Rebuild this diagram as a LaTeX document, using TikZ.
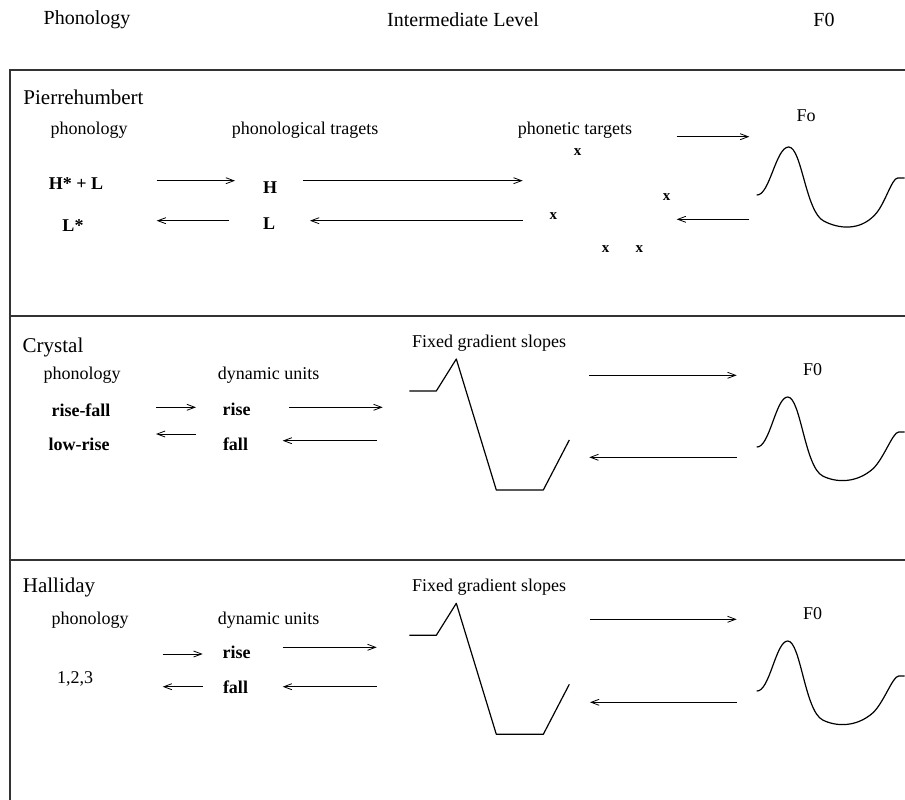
\documentclass[tikz,border=0pt]{standalone}
\usepackage{fontspec}
\setmainfont{Liberation Serif}
\usetikzlibrary{arrows.meta}
\tikzset{
  ttl/.style={inner sep=0pt, font=\fontsize{20}{22}\selectfont},
  pnl/.style={inner sep=0pt, font=\fontsize{21}{23}\selectfont},
  lbl/.style={inner sep=0pt, font=\fontsize{18}{20}\selectfont},
  bld/.style={inner sep=0pt, font=\fontsize{18}{20}\selectfont\bfseries},
  xmk/.style={inner sep=0pt, font=\fontsize{15}{16}\selectfont\bfseries},
  arr/.style={line width=0.9pt, -{Straight Barb[length=8pt,width=6pt,line width=0.8pt]}},
  frame/.style={line width=1.5pt, black!80},
  curve/.style={line width=1.2pt, line join=round},
}
\begin{document}
\begin{tikzpicture}[x=1pt,y=-1pt]
\useasboundingbox (0,0) rectangle (905,800);
% header
\node[ttl] (hph) at (87,20) {Phonology};
\node[ttl] (hil) at (463,20) {Intermediate Level};
\node[ttl] (hf0) at (824,20) {F0};
% frame
\coordinate (fTR) at (905,70);
\coordinate (fTL) at (10,70);
\coordinate (fBL) at (10,800);
\coordinate (d1L) at (10,316);
\coordinate (d1R) at (905,316);
\coordinate (d2L) at (10,560);
\coordinate (d2R) at (905,560);
\draw[frame] (fTR) -- (fTL) -- (fBL);
\draw[frame] (d1L) -- (d1R);
\draw[frame] (d2L) -- (d2R);

% ---------- Pierrehumbert ----------
\node[pnl] (pname) at (83.5,97) {Pierrehumbert};
\node[lbl] (pphon) at (89,130) {phonology};
\node[lbl] (ptrag) at (305,130) {phonological tragets};
\node[lbl] (pphtg) at (575,130) {phonetic targets};
\node[lbl] (pfo) at (806,116) {Fo};
\node[bld] (phl) at (76,184) {H* + L};
\node[bld] (plst) at (73,226) {L*};
\node[bld] (ph) at (270,188) {H};
\node[bld] (pl) at (269,224) {L};
\node[xmk] (x1) at (577.7,151.7) {x};
\node[xmk] (x2) at (553.3,215.7) {x};
\node[xmk] (x3) at (666.7,197.3) {x};
\node[xmk] (x4) at (605.7,249.3) {x};
\node[xmk] (x5) at (639.3,249.3) {x};
\coordinate (pa1s) at (156.7,180.7); \coordinate (pa1e) at (235,180.7);
\coordinate (pa2s) at (229,220.7);   \coordinate (pa2e) at (156.7,220.7);
\coordinate (pa3s) at (302.7,180.7); \coordinate (pa3e) at (522.7,180.7);
\coordinate (pa4s) at (522.7,220.7); \coordinate (pa4e) at (310,220.7);
\coordinate (pa5s) at (676.7,136.7); \coordinate (pa5e) at (749.3,136.7);
\coordinate (pa6s) at (749.3,219.3); \coordinate (pa6e) at (676.7,219.3);
\draw[arr] (pa1s) -- (pa1e);
\draw[arr] (pa2s) -- (pa2e);
\draw[arr] (pa3s) -- (pa3e);
\draw[arr] (pa4s) -- (pa4e);
\draw[arr] (pa5s) -- (pa5e);
\draw[arr] (pa6s) -- (pa6e);
\begin{scope}[shift={(756.7,195)}]
\draw[curve] (0,0) .. controls (13,1) and (19,-48) .. (32,-48)
  .. controls (45,-48) and (49,17) .. (67,26)
  .. controls (82,34) and (103,36) .. (118,20)
  .. controls (128,10) and (135,-17) .. (141,-17) -- (148,-17);
\end{scope}

% ---------- Crystal ----------
\node[pnl] (cname) at (53,347) {Crystal};
\node[lbl] (cphon) at (82,375) {phonology};
\node[lbl] (cdyn) at (268.7,375) {dynamic units};
\node[bld] (crf) at (81,410) {rise-fall};
\node[bld] (clr) at (79,444) {low-rise};
\node[bld] (crise) at (236.7,409.3) {rise};
\node[bld] (cfall) at (235.5,444) {fall};
\node[lbl] (cfix) at (489,343.3) {Fixed gradient slopes};
\node[lbl] (cf0) at (812.5,369.3) {F0};
\coordinate (ca1s) at (156,407.3);   \coordinate (ca1e) at (196,407.3);
\coordinate (ca2s) at (196,434);     \coordinate (ca2e) at (156,434);
\coordinate (ca3s) at (289.3,407.3); \coordinate (ca3e) at (382.7,407.3);
\coordinate (ca4s) at (376.7,440.7); \coordinate (ca4e) at (282.7,440.7);
\coordinate (ca5s) at (589.3,375.3); \coordinate (ca5e) at (736.7,375.3);
\coordinate (ca6s) at (736.7,457.3); \coordinate (ca6e) at (589.3,457.3);
\draw[arr] (ca1s) -- (ca1e);
\draw[arr] (ca2s) -- (ca2e);
\draw[arr] (ca3s) -- (ca3e);
\draw[arr] (ca4s) -- (ca4e);
\draw[arr] (ca5s) -- (ca5e);
\draw[arr] (ca6s) -- (ca6e);
\begin{scope}[shift={(409.3,391)}]
\draw[curve] (0,0) -- (27,0) -- (47,-32) -- (87,99) -- (134,99) -- (160,49);
\end{scope}
\begin{scope}[shift={(756.7,447)}]
\draw[curve] (0,0) .. controls (13,1) and (19,-50) .. (31,-50)
  .. controls (44,-50) and (48,20) .. (66,29)
  .. controls (80,36) and (100,36) .. (116,22)
  .. controls (127,12) and (136,-15) .. (142,-15) -- (148,-15);
\end{scope}

% ---------- Halliday ----------
\node[pnl] (hname) at (59,587.3) {Halliday};
\node[lbl] (hphon) at (90,620) {phonology};
\node[lbl] (hdyn) at (268.7,620) {dynamic units};
\node[lbl] (h123) at (75,679.3) {1,2,3};
\node[bld] (hrise) at (236.7,652.7) {rise};
\node[bld] (hfall) at (235.5,687.3) {fall};
\node[lbl] (hfix) at (489,586.7) {Fixed gradient slopes};
\node[lbl] (hf0) at (812.5,613.3) {F0};
\coordinate (ha1s) at (162.7,654);   \coordinate (ha1e) at (202.7,654);
\coordinate (ha2s) at (202.7,686.7); \coordinate (ha2e) at (162.7,686.7);
\coordinate (ha3s) at (282.7,647.3); \coordinate (ha3e) at (376.7,647.3);
\coordinate (ha4s) at (376.7,686.7); \coordinate (ha4e) at (282.7,686.7);
\coordinate (ha5s) at (590,619.3);   \coordinate (ha5e) at (736.7,619.3);
\coordinate (ha6s) at (736.7,702.3); \coordinate (ha6e) at (590,702.3);
\draw[arr] (ha1s) -- (ha1e);
\draw[arr] (ha2s) -- (ha2e);
\draw[arr] (ha3s) -- (ha3e);
\draw[arr] (ha4s) -- (ha4e);
\draw[arr] (ha5s) -- (ha5e);
\draw[arr] (ha6s) -- (ha6e);
\begin{scope}[shift={(409.3,635.3)}]
\draw[curve] (0,0) -- (27,0) -- (47,-32) -- (87,99) -- (134,99) -- (160,49);
\end{scope}
\begin{scope}[shift={(756.7,691)}]
\draw[curve] (0,0) .. controls (13,1) and (19,-50) .. (31,-50)
  .. controls (44,-50) and (48,20) .. (66,29)
  .. controls (80,36) and (100,36) .. (116,22)
  .. controls (127,12) and (136,-15) .. (142,-15) -- (148,-15);
\end{scope}
\end{tikzpicture}
\end{document}
